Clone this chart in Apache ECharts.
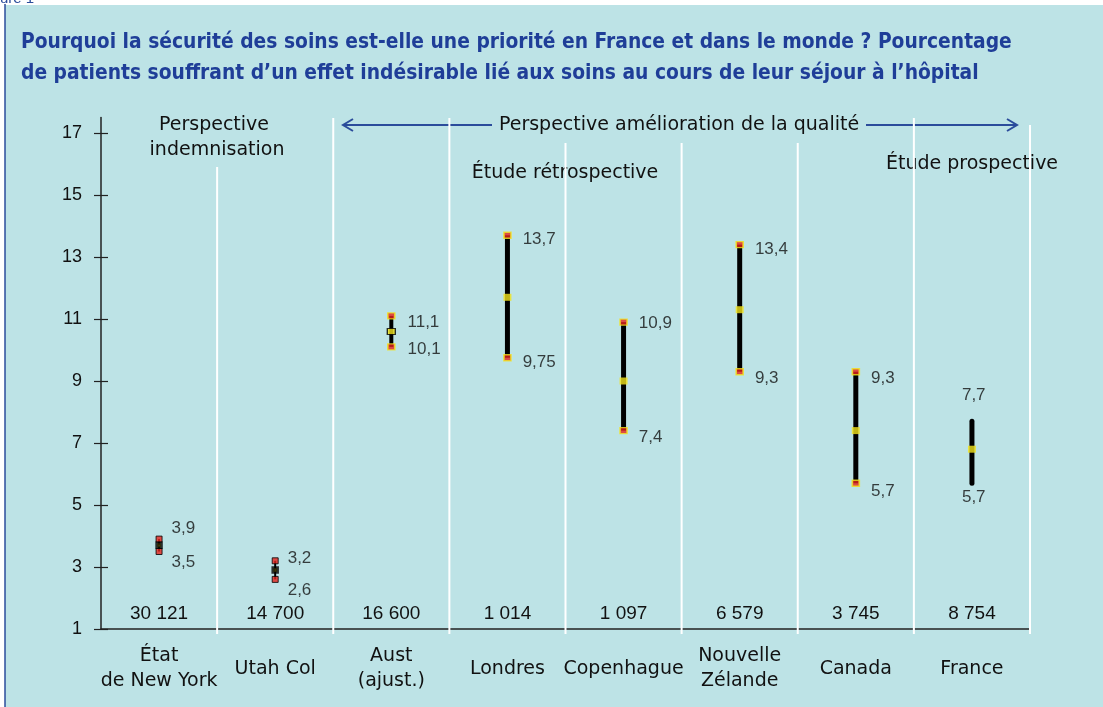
<!DOCTYPE html>
<html>
<head>
<meta charset="utf-8">
<script src="https://cdn.jsdelivr.net/npm/echarts@6/dist/echarts.min.js"></script>
<style>
  html, body { margin: 0; padding: 0; background: #fff; }
  #chart { width: 1103px; height: 707px; }
</style>
</head>
<body>
<div id="chart"></div>
<script>
// données
const categories = ['État\nde New York', 'Utah Col', 'Aust\n(ajust.)', 'Londres', 'Copenhague', 'Nouvelle\nZélande', 'Canada', 'France'];
const sampleSizes = ['30 121', '14 700', '16 600', '1 014', '1 097', '6 579', '3 745', '8 754'];
const lowValues = [3.5, 2.6, 10.1, 9.75, 7.4, 9.3, 5.7, 5.7];
const highValues = [3.9, 3.2, 11.1, 13.7, 10.9, 13.4, 9.3, 7.7];
const midValues = [3.7, 2.9, 10.6, 11.7, 9.0, 11.3, 7.4, 6.8];
const lowLabels = ['3,5', '2,6', '10,1', '9,75', '7,4', '9,3', '5,7', '5,7'];
const highLabels = ['3,9', '3,2', '11,1', '13,7', '10,9', '13,4', '9,3', '7,7'];
const yTicks = [1, 3, 5, 7, 9, 11, 13, 15, 17];

// habillage (pas des données)
const barWidths = [2, 2, 4, 5, 5, 5, 5, 5];
const endKind = ['dark', 'dark', 'gold', 'gold', 'gold', 'gold', 'gold', 'none'];
const midKind = ['dark', 'dark', 'boxed', 'plain', 'plain', 'plain', 'plain', 'plain'];
const highOffset = [[13, -10], [13, -2], [17, 7], [16, 5], [16, 2], [16, 5], [16, 7], [-10, -26]];
const lowOffset = [[13, 11], [13, 11], [17, 3], [16, 5], [16, 7], [16, 7], [16, 9], [-10, 14]];
const separatorTop = [15.9, 17.48, 17.48, 16.68, 16.68, 16.68, 17.48, 17.26];

const WORD_FONT = "'DejaVu Sans', sans-serif";
const NUM_FONT = "'Liberation Sans', Arial, sans-serif";
const TITLE_FONT = "'Liberation Sans Narrow', 'DejaVu Sans Condensed', sans-serif";
const BLUE = '#2b4c9b';
const RED = '#e3231b';
const YELLOW = '#f2e31c';

function endItem(i, value, label, off) {
  const kind = endKind[i];
  let size = [7, 6], style;
  if (kind === 'dark') { size = [6, 6]; style = { color: RED, borderColor: '#000', borderWidth: 1 }; }
  else if (kind === 'gold') { style = { color: RED, borderColor: YELLOW, borderWidth: 1.5 }; }
  else { size = [1, 1]; style = { color: 'rgba(0,0,0,0)', borderWidth: 0 }; }
  return {
    value: [i, value],
    symbolSize: size,
    itemStyle: style,
    label: {
      show: true,
      formatter: label,
      position: [size[0] / 2 + off[0], size[1] / 2 + off[1]],
      align: 'left',
      verticalAlign: 'middle',
      fontFamily: NUM_FONT,
      fontSize: 17,
      color: '#111'
    }
  };
}

function midItem(i) {
  const kind = midKind[i];
  let size = [8, 7], style = { color: YELLOW, borderWidth: 0 };
  if (kind === 'dark') { size = [4, 4]; style = { color: YELLOW, borderColor: '#000', borderWidth: 3.5 }; }
  if (kind === 'boxed') { size = [8, 6]; style = { color: YELLOW, borderColor: '#000', borderWidth: 1.2 }; }
  return { value: [i, midValues[i]], symbolSize: size, itemStyle: style };
}

function note(text, x, y) {
  return {
    type: 'text', x: x, y: y, silent: true,
    style: { text: text, fill: '#111', fontFamily: WORD_FONT, fontSize: 19, align: 'center', verticalAlign: 'middle' }
  };
}

const chart = echarts.init(document.getElementById('chart'));

const option = {
  backgroundColor: '#bde3e6',
  animation: false,
  title: {
    text: 'Pourquoi la sécurité des soins est-elle une priorité en France et dans le monde ? Pourcentage\nde patients souffrant d’un effet indésirable lié aux soins au cours de leur séjour à l’hôpital',
    left: 16,
    top: 22,
    textStyle: { fontFamily: TITLE_FONT, fontSize: 20.8, fontWeight: 'bold', color: '#1f3e98', lineHeight: 31 }
  },
  grid: { left: 101, right: 73, top: 117.5, bottom: 78 },
  xAxis: [
    {
      type: 'category',
      data: categories,
      axisLine: { lineStyle: { color: '#222', width: 1.5 } },
      axisTick: { show: false },
      axisLabel: { margin: 40, verticalAlign: 'middle', lineHeight: 25, fontFamily: WORD_FONT, fontSize: 19, color: '#111', interval: 0 }
    },
    {
      type: 'category',
      data: sampleSizes,
      position: 'bottom',
      axisLine: { show: false },
      axisTick: { show: false },
      axisLabel: { inside: true, margin: 15, verticalAlign: 'middle', fontFamily: NUM_FONT, fontSize: 19, color: '#111', interval: 0 }
    }
  ],
  yAxis: [
    {
      type: 'value',
      position: 'left',
      min: 1,
      max: 17.5,
      splitLine: { show: false },
      axisLine: { show: true, lineStyle: { color: '#222', width: 1.5 } },
      axisTick: { show: true, length: 7, customValues: yTicks, lineStyle: { color: '#222', width: 1.2 } },
      axisLabel: { customValues: yTicks, margin: 19, fontFamily: NUM_FONT, fontSize: 18, color: '#111' }
    },
    {
      type: 'value',
      position: 'left',
      min: 1,
      max: 17.5,
      splitLine: { show: false },
      axisLine: { show: false },
      axisTick: { show: true, inside: true, length: 7, customValues: yTicks, lineStyle: { color: '#222', width: 1.2 } },
      axisLabel: { show: false }
    }
  ],
  series: [
    {
      // séparateurs blancs entre les études
      type: 'custom',
      silent: true,
      z: 1,
      data: separatorTop.map((t, i) => [i, t]),
      renderItem: function (params, api) {
        const bottom = api.coord([api.value(0), 1]);
        const top = api.coord([api.value(0), api.value(1)]);
        const half = api.size([1, 0])[0] / 2;
        return {
          type: 'line',
          shape: { x1: bottom[0] + half, y1: bottom[1] + 5, x2: top[0] + half, y2: top[1] },
          style: { stroke: '#ffffff', lineWidth: 2 }
        };
      }
    },
    {
      // barres min-max
      type: 'custom',
      silent: true,
      z: 3,
      data: lowValues.map((v, i) => [i, v, highValues[i]]),
      renderItem: function (params, api) {
        const i = params.dataIndex;
        const lo = api.coord([api.value(0), api.value(1)]);
        const hi = api.coord([api.value(0), api.value(2)]);
        return {
          type: 'line',
          shape: { x1: lo[0], y1: lo[1], x2: hi[0], y2: hi[1] },
          style: { stroke: '#000', lineWidth: barWidths[i], lineCap: endKind[i] === 'none' ? 'round' : 'butt' }
        };
      }
    },
    {
      type: 'scatter',
      symbol: 'rect',
      z: 4,
      data: highValues.map((v, i) => endItem(i, v, highLabels[i], highOffset[i]))
    },
    {
      type: 'scatter',
      symbol: 'rect',
      z: 4,
      data: lowValues.map((v, i) => endItem(i, v, lowLabels[i], lowOffset[i]))
    },
    {
      type: 'scatter',
      symbol: 'rect',
      z: 5,
      data: midValues.map((v, i) => midItem(i))
    }
  ],
  graphic: [
    { type: 'rect', shape: { x: 0, y: 0, width: 1103, height: 5 }, style: { fill: '#fff' }, silent: true },
    { type: 'rect', shape: { x: 0, y: 0, width: 5, height: 707 }, style: { fill: '#fff' }, silent: true },
    { type: 'line', shape: { x1: 5, y1: 4, x2: 5, y2: 707 }, style: { stroke: BLUE, lineWidth: 1.5 }, silent: true },
    { type: 'text', x: 0, y: -9, style: { text: 'ure 1', fill: BLUE, fontFamily: NUM_FONT, fontSize: 15, align: 'left', verticalAlign: 'top' }, silent: true },
    note('Perspective', 214, 125),
    note('indemnisation', 217, 150),
    note('Perspective amélioration de la qualité', 679, 125),
    note('Étude rétrospective', 565, 173),
    note('Étude prospective', 972, 164),
    { type: 'line', shape: { x1: 343, y1: 125, x2: 492, y2: 125 }, style: { stroke: BLUE, lineWidth: 2 }, silent: true },
    { type: 'polyline', shape: { points: [[353, 119], [343, 125], [353, 131]] }, style: { stroke: BLUE, lineWidth: 2, fill: null }, silent: true },
    { type: 'line', shape: { x1: 866, y1: 125, x2: 1017, y2: 125 }, style: { stroke: BLUE, lineWidth: 2 }, silent: true },
    { type: 'polyline', shape: { points: [[1007, 119], [1017, 125], [1007, 131]] }, style: { stroke: BLUE, lineWidth: 2, fill: null }, silent: true }
  ]
};

chart.setOption(option);
</script>
</body>
</html>
